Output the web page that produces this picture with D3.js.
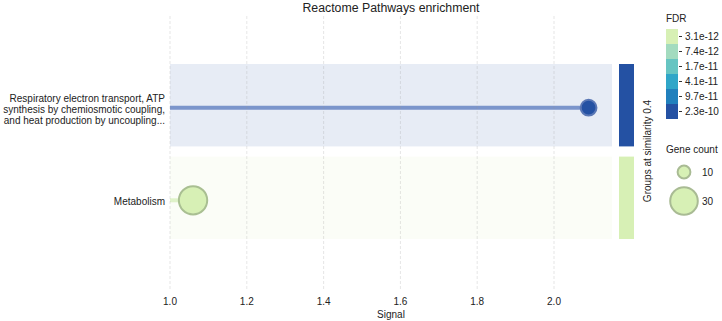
<!DOCTYPE html>
<html>
<head>
<meta charset="utf-8">
<script src="https://cdn.jsdelivr.net/npm/d3@7"></script>
<style>
  body { margin: 0; background: #fff; }
  text { font-family: "Liberation Sans", Arial, sans-serif; fill: #222; }
</style>
</head>
<body>
<div id="chart"></div>
<script>
// data
const termLines = [
    ["Respiratory electron transport, ATP", "synthesis by chemiosmotic coupling,", "and heat production by uncoupling..."],
    ["Metabolism"]
];
const signal = [2.09, 1.06];
const geneCount = [14, 31];
const fdr = [2.3e-10, 3.1e-12];
const groupOf = [0, 1];

const xTicks = [1.0, 1.2, 1.4, 1.6, 1.8, 2.0];
const fdrLabels = ["3.1e-12", "7.4e-12", "1.7e-11", "4.1e-11", "9.7e-11", "2.3e-10"];
const fdrColors = ["#d7f0b5", "#a3dbbf", "#67c5c2", "#30a6c8", "#2180bd", "#2451a3"];
const groupColors = ["#2451a3", "#d7f0b5"];
const sizeLegend = [10, 30];

const width = 722;
const height = 321;

var svg = d3.select("#chart").append("svg")
    .attr("width", width).attr("height", height);

var x = d3.scaleLinear().domain([1.0, 2.151]).range([170, 612]);
var y = d3.scaleBand().domain([0, 1]).range([64, 239]).paddingInner(0.11);
var r = d3.scaleLinear().domain([10, 30]).range([6.4, 13.8]);

// band rows
var bandAlpha = [0.11, 0.1];
svg.append("g").selectAll("rect")
    .data(termLines)
    .enter()
    .append("rect")
    .attr("x", x(1.0))
    .attr("y", (d, i) => y(i))
    .attr("width", x.range()[1] - x(1.0))
    .attr("height", y.bandwidth())
    .attr("fill", (d, i) => groupColors[groupOf[i]])
    .attr("fill-opacity", (d, i) => bandAlpha[i]);

// group bars
svg.append("g").selectAll("rect")
    .data(termLines)
    .enter()
    .append("rect")
    .attr("x", 619)
    .attr("y", (d, i) => y(i))
    .attr("width", 15)
    .attr("height", y.bandwidth())
    .attr("fill", (d, i) => groupColors[groupOf[i]]);

svg.append("text")
    .attr("transform", "translate(651,151) rotate(-90)")
    .attr("text-anchor", "middle")
    .attr("font-size", 10)
    .text("Groups at similarity 0.4");

var fdrColor = d3.scaleLog().domain([3.1e-12, 2.3e-10]);
function colorOf(v) {
    let k = Math.round(fdrColor.range([0, fdrColors.length - 1])(v));
    return fdrColors[k];
}

var cy = i => y(i) + y.bandwidth() / 2 + 2.5;

// lollipop lines
var lineColors = ["#7b95cb", "#dff2c9"];
svg.append("g").selectAll("line")
    .data(signal)
    .enter()
    .append("line")
    .attr("x1", x(1.0))
    .attr("x2", d => x(d))
    .attr("y1", (d, i) => cy(i))
    .attr("y2", (d, i) => cy(i))
    .attr("stroke", (d, i) => lineColors[i])
    .attr("stroke-width", 4);

// dots
var strokeColors = ["#5a77b5", "#a9bf92"];
svg.append("g").selectAll("circle")
    .data(signal)
    .enter()
    .append("circle")
    .attr("cx", d => x(d))
    .attr("cy", (d, i) => cy(i))
    .attr("r", (d, i) => r(geneCount[i]))
    .attr("fill", (d, i) => colorOf(fdr[i]))
    .attr("stroke", (d, i) => strokeColors[i])
    .attr("stroke-width", 2);

// grid on top
svg.append("g").selectAll("line")
    .data(xTicks)
    .enter()
    .append("line")
    .attr("x1", d => x(d)).attr("x2", d => x(d))
    .attr("y1", 16).attr("y2", 291)
    .attr("stroke", "#999")
    .attr("stroke-opacity", 0.35)
    .attr("stroke-width", 0.7)
    .attr("stroke-dasharray", "3,2");

// x axis labels
svg.append("g").selectAll("text")
    .data(xTicks)
    .enter()
    .append("text")
    .attr("x", d => x(d))
    .attr("y", 305)
    .attr("text-anchor", "middle")
    .attr("font-size", 10)
    .text(d => d3.format(".1f")(d));

svg.append("text")
    .attr("x", 391).attr("y", 318)
    .attr("text-anchor", "middle")
    .attr("font-size", 10)
    .text("Signal");

svg.append("text")
    .attr("x", 391).attr("y", 12)
    .attr("text-anchor", "middle")
    .attr("font-size", 12.3)
    .text("Reactome Pathways enrichment");

// y labels
termLines.forEach(function (lines, i) {
    let t = svg.append("text")
        .attr("text-anchor", "end")
        .attr("font-size", 10);
    lines.forEach(function (ln, j) {
        t.append("tspan")
            .attr("x", 165)
            .attr("y", cy(i) + 5 + (j - (lines.length - 1) / 2) * 11)
            .text(ln);
    });
});

// FDR legend
svg.append("text").attr("x", 666).attr("y", 22).attr("font-size", 10).text("FDR");
var segH = 15;
var lg = svg.append("g").attr("transform", "translate(666,29)");
lg.selectAll("rect")
    .data(fdrColors)
    .enter()
    .append("rect")
    .attr("x", 0).attr("y", (d, i) => i * segH)
    .attr("width", 12).attr("height", segH)
    .attr("fill", d => d);
lg.selectAll("line")
    .data(fdrLabels)
    .enter()
    .append("line")
    .attr("x1", 13).attr("x2", 16)
    .attr("y1", (d, i) => i * segH + segH / 2)
    .attr("y2", (d, i) => i * segH + segH / 2)
    .attr("stroke", "#333");
lg.selectAll("text")
    .data(fdrLabels)
    .enter()
    .append("text")
    .attr("x", 19)
    .attr("y", (d, i) => i * segH + segH / 2 + 3.5)
    .attr("font-size", 10)
    .text(d => d);

// Gene count legend
svg.append("text").attr("x", 666).attr("y", 153).attr("font-size", 10).text("Gene count");
var sl = svg.append("g");
var legY = [172, 201];
sl.selectAll("circle")
    .data(sizeLegend)
    .enter()
    .append("circle")
    .attr("cx", 684)
    .attr("cy", (d, i) => legY[i])
    .attr("r", d => r(d))
    .attr("fill", "#d7f0b5")
    .attr("stroke", "#a9bb94")
    .attr("stroke-width", 2);
sl.selectAll("text")
    .data(sizeLegend)
    .enter()
    .append("text")
    .attr("x", 702)
    .attr("y", (d, i) => legY[i] + 3.5)
    .attr("font-size", 10)
    .text(d => d);
</script>
</body>
</html>
